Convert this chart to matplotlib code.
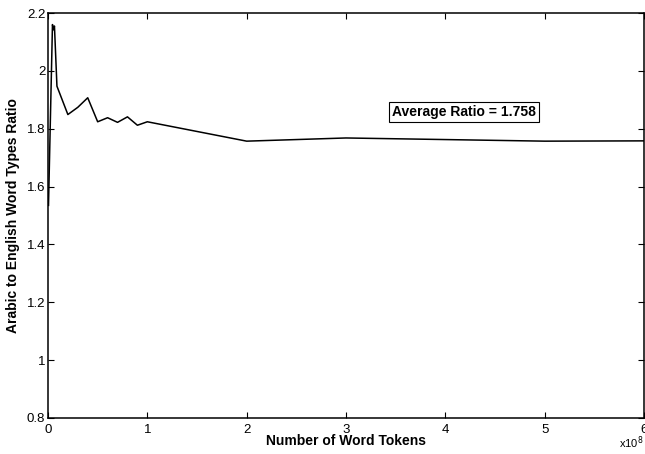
import matplotlib
matplotlib.use("Agg")
import matplotlib.pyplot as plt

plt.rcParams['font.family'] = ['Liberation Sans', 'DejaVu Sans']

# Number of word tokens (in units of 1e8)
tokens = [0.005, 0.045, 0.055, 0.065, 0.09, 0.2, 0.3, 0.4, 0.5, 0.6, 0.7, 0.8, 0.9, 1.0, 2.0, 3.0, 5.0, 6.0]
ratio = [1.535, 2.160, 2.142, 2.155, 1.947, 1.849, 1.874, 1.907, 1.824, 1.838, 1.822, 1.841, 1.812, 1.824, 1.757, 1.768, 1.757, 1.758]
xticks = [0, 1, 2, 3, 4, 5, 6]
yticks = [0.8, 1.0, 1.2, 1.4, 1.6, 1.8, 2.0, 2.2]
ytick_labels = ['0.8', '1', '1.2', '1.4', '1.6', '1.8', '2', '2.2']
avg_label = 'Average Ratio = 1.758'

fig = plt.figure(figsize=(6.45, 4.54), dpi=100)
ax = fig.add_axes([48/645, 36/454, 596/645, 405/454])
ax.plot(tokens, ratio, color='black', linewidth=1.1)
ax.set_xlim(0, 6)
ax.set_ylim(0.8, 2.2)
ax.set_xticks(xticks)
ax.set_xticklabels([str(t) for t in xticks])
ax.set_yticks(yticks)
ax.set_yticklabels(ytick_labels)
ax.tick_params(direction='in', top=True, right=True, length=4, width=0.8, labelsize=9.5)
ax.tick_params(axis='x', pad=4)
ax.tick_params(axis='y', pad=2)
for s in ax.spines.values():
    s.set_linewidth(1.1)
ax.set_xlabel('Number of Word Tokens', fontsize=10, fontweight='bold', labelpad=-1)
ax.set_ylabel('Arabic to English Word Types Ratio', fontsize=10, fontweight='bold', labelpad=5)
ax.text(4.19, 1.858, avg_label, fontsize=10, fontweight='bold', ha='center', va='center',
        bbox=dict(boxstyle='square,pad=0.2', facecolor='white', edgecolor='black', linewidth=0.8))
fig.text(643/645, 1 - 443/454, 'x10$^{8}$', fontsize=8, ha='right', va='center')
fig.savefig('out.png', dpi=100)
